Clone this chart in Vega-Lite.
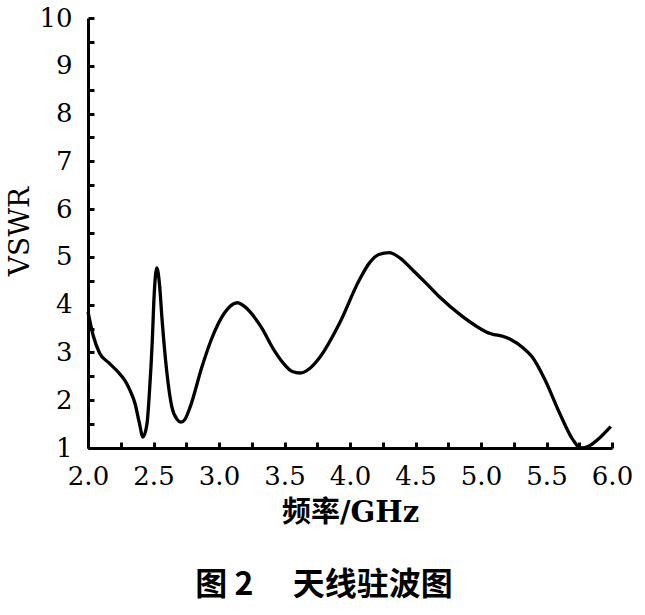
{
  "$schema": "https://vega.github.io/schema/vega-lite/v6.json",
  "width": 524,
  "height": 430,
  "autosize": {"type": "none"},
  "padding": {"left": 88, "top": 18, "right": 33, "bottom": 167},
  "background": "white",
  "title": {
    "text": "图 2　 天线驻波图",
    "orient": "bottom",
    "anchor": "middle",
    "font": "Noto Sans CJK SC",
    "fontSize": 32,
    "fontWeight": "bold",
    "color": "black",
    "offset": 43,
    "dx": -26
  },
  "config": {
    "view": {"stroke": null},
    "axis": {
      "domainColor": "black",
      "domainWidth": 3,
      "tickColor": "black",
      "tickWidth": 3,
      "tickSize": -6,
      "grid": false,
      "labelFont": "DejaVu Serif",
      "labelFontSize": 26,
      "labelColor": "black",
      "titleColor": "black",
      "labelFlush": false
    }
  },
  "data": {
    "values": [
      {"f": 2.0, "v": 3.85},
      {"f": 2.04, "v": 3.35},
      {"f": 2.09, "v": 2.98},
      {"f": 2.16, "v": 2.78},
      {"f": 2.23, "v": 2.59},
      {"f": 2.28, "v": 2.42},
      {"f": 2.32, "v": 2.21},
      {"f": 2.36, "v": 1.92},
      {"f": 2.39, "v": 1.55},
      {"f": 2.42, "v": 1.23},
      {"f": 2.45, "v": 1.5},
      {"f": 2.47, "v": 2.21},
      {"f": 2.49, "v": 3.2},
      {"f": 2.505, "v": 4.2},
      {"f": 2.525, "v": 4.77},
      {"f": 2.545, "v": 4.45},
      {"f": 2.565, "v": 3.7},
      {"f": 2.6, "v": 2.63},
      {"f": 2.64, "v": 1.86},
      {"f": 2.68, "v": 1.6},
      {"f": 2.71, "v": 1.54},
      {"f": 2.74, "v": 1.6},
      {"f": 2.78, "v": 1.86},
      {"f": 2.87, "v": 2.7},
      {"f": 2.94, "v": 3.26},
      {"f": 3.04, "v": 3.82},
      {"f": 3.14, "v": 4.04},
      {"f": 3.22, "v": 3.9},
      {"f": 3.32, "v": 3.54},
      {"f": 3.42, "v": 3.05},
      {"f": 3.49, "v": 2.78},
      {"f": 3.56, "v": 2.6},
      {"f": 3.62, "v": 2.57},
      {"f": 3.69, "v": 2.66},
      {"f": 3.77, "v": 2.9},
      {"f": 3.92, "v": 3.61},
      {"f": 4.07, "v": 4.51},
      {"f": 4.15, "v": 4.88},
      {"f": 4.22, "v": 5.05},
      {"f": 4.3, "v": 5.09},
      {"f": 4.38, "v": 4.98},
      {"f": 4.48, "v": 4.72},
      {"f": 4.58, "v": 4.45},
      {"f": 4.68, "v": 4.17},
      {"f": 4.86, "v": 3.75},
      {"f": 5.04, "v": 3.43},
      {"f": 5.22, "v": 3.28},
      {"f": 5.32, "v": 3.1},
      {"f": 5.39, "v": 2.91},
      {"f": 5.49, "v": 2.42},
      {"f": 5.6, "v": 1.73},
      {"f": 5.7, "v": 1.18},
      {"f": 5.76, "v": 1.0},
      {"f": 5.83, "v": 1.05},
      {"f": 5.9, "v": 1.2},
      {"f": 5.99, "v": 1.45}
    ]
  },
  "mark": {"type": "line", "interpolate": "monotone", "color": "black", "strokeWidth": 3.3},
  "encoding": {
    "x": {
      "field": "f",
      "type": "quantitative",
      "scale": {"domain": [2, 6], "nice": false, "zero": false},
      "axis": {
        "values": [2, 2.25, 2.5, 2.75, 3, 3.25, 3.5, 3.75, 4, 4.25, 4.5, 4.75, 5, 5.25, 5.5, 5.75, 6],
        "labelExpr": "datum.value * 2 == floor(datum.value * 2) ? format(datum.value, '.1f') : ''",
        "labelPadding": 21,
        "title": "频率/GHz",
        "titleFont": "DejaVu Serif, Noto Sans CJK SC",
        "titleFontSize": 29,
        "titleFontWeight": "bold",
        "titlePadding": 9
      }
    },
    "y": {
      "field": "v",
      "type": "quantitative",
      "scale": {"domain": [1, 10], "nice": false, "zero": false},
      "axis": {
        "values": [1, 1.5, 2, 2.5, 3, 3.5, 4, 4.5, 5, 5.5, 6, 6.5, 7, 7.5, 8, 8.5, 9, 9.5, 10],
        "labelExpr": "datum.value == floor(datum.value) ? format(datum.value, 'd') : ''",
        "labelPadding": 22,
        "title": "VSWR",
        "titleFont": "DejaVu Serif",
        "titleFontSize": 28,
        "titleFontWeight": "normal",
        "titleX": -54,
        "titleY": 213
      }
    }
  }
}
